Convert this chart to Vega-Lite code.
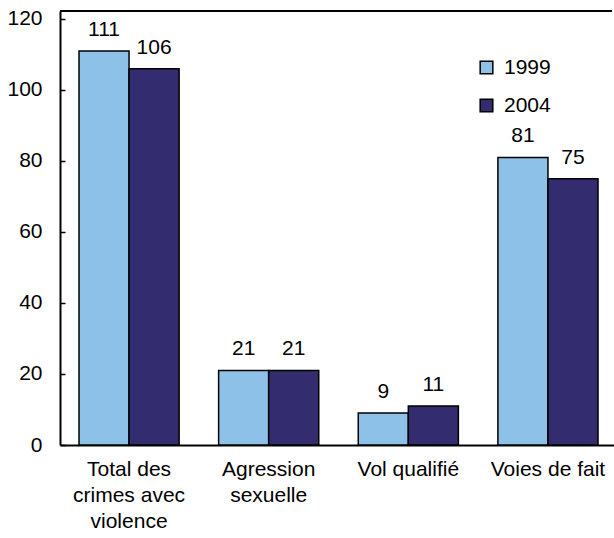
{
  "$schema": "https://vega.github.io/schema/vega-lite/v6.json",
  "width": 552,
  "height": 434,
  "autosize": {"type": "none"},
  "padding": {"left": 60, "top": 11, "right": 2, "bottom": 93},
  "background": "white",
  "config": {
    "font": "Liberation Sans",
    "view": {"stroke": null},
    "axis": {"labelFont": "Liberation Sans", "labelColor": "black", "labelFontSize": 21, "grid": false}
  },
  "data": {
    "values": [
      {"cat": "Total des|crimes avec|violence", "order": 1, "year": "1999", "value": 111},
      {"cat": "Total des|crimes avec|violence", "order": 1, "year": "2004", "value": 106},
      {"cat": "Agression|sexuelle", "order": 2, "year": "1999", "value": 21},
      {"cat": "Agression|sexuelle", "order": 2, "year": "2004", "value": 21},
      {"cat": "Vol qualifié", "order": 3, "year": "1999", "value": 9},
      {"cat": "Vol qualifié", "order": 3, "year": "2004", "value": 11},
      {"cat": "Voies de fait", "order": 4, "year": "1999", "value": 81},
      {"cat": "Voies de fait", "order": 4, "year": "2004", "value": 75}
    ]
  },
  "layer": [
    {
      "mark": {"type": "bar", "stroke": "black", "strokeWidth": 1.5},
      "encoding": {
        "x": {
          "field": "cat", "type": "nominal", "sort": {"field": "order"},
          "scale": {"range": [0, 557], "paddingInner": 0.283, "paddingOuter": 0.136},
          "axis": {"title": null, "labelAngle": 0, "ticks": false, "domainColor": "black", "domainWidth": 2,
            "labelExpr": "split(datum.label, '|')", "labelLineHeight": 26, "labelPadding": 13, "labelFontSize": 21}
        },
        "xOffset": {"field": "year", "type": "nominal"},
        "y": {
          "field": "value", "type": "quantitative",
          "scale": {"domain": [0, 122.25], "nice": false},
          "axis": {"title": null, "values": [0, 20, 40, 60, 80, 100, 120], "domainColor": "black", "domainWidth": 2,
            "tickColor": "black", "tickWidth": 1.5, "tickSize": -5, "labelPadding": 23}
        },
        "color": {
          "field": "year", "type": "nominal",
          "scale": {"domain": ["1999", "2004"], "range": ["#8EC1E8", "#332C6E"]},
          "legend": {"title": null, "orient": "none", "legendX": 416, "legendY": 46,
            "symbolType": "square", "symbolSize": 160, "symbolStrokeColor": "black", "symbolStrokeWidth": 1.5,
            "labelFontSize": 21, "labelColor": "black", "rowPadding": 16, "labelOffset": 7}
        }
      }
    },
    {
      "mark": {"type": "text", "baseline": "alphabetic", "dy": -15, "fontSize": 21, "color": "black"},
      "encoding": {
        "x": {"field": "cat", "type": "nominal", "sort": {"field": "order"}},
        "xOffset": {"field": "year", "type": "nominal"},
        "y": {"field": "value", "type": "quantitative"},
        "text": {"field": "value", "type": "quantitative"}
      }
    },
    {
      "mark": {"type": "rule", "color": "black", "strokeWidth": 2},
      "encoding": {"y": {"datum": 122.25}}
    }
  ]
}
